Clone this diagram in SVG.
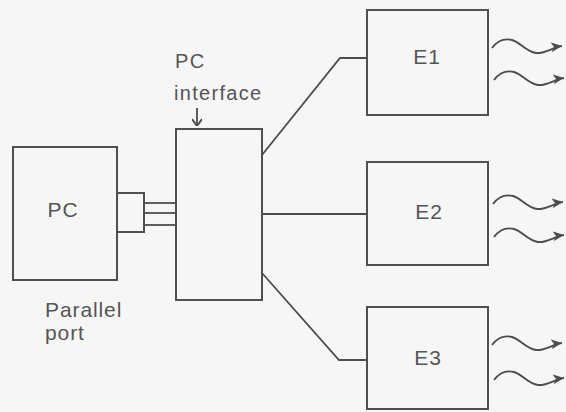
<svg xmlns="http://www.w3.org/2000/svg" width="566" height="412" viewBox="0 0 566 412">
  <style>
    .box { fill: none; stroke: #505050; stroke-width: 2; }
    .wire { fill: none; stroke: #4d4d4d; stroke-width: 1.8; }
    .wave { fill: none; stroke: #4d4d4d; stroke-width: 1.9; marker-end: url(#head); }
    .lbl { font-family: "Liberation Sans", Arial, sans-serif; fill: #555; }
    .big { font-size: 21px; letter-spacing: 1px; }
    .note { font-size: 20px; letter-spacing: 1.3px; }
  </style>
  <defs>
    <marker id="head" viewBox="-11 -5.5 11 11" refX="0" refY="0" markerWidth="11" markerHeight="11" markerUnits="userSpaceOnUse" orient="auto">
      <path d="M0,0 L-11,-5 L-8,0 L-11,5 Z" fill="#4d4d4d"/>
    </marker>
    <marker id="dhead" viewBox="-8 -5 8 10" refX="0" refY="0" markerWidth="8" markerHeight="10" markerUnits="userSpaceOnUse" orient="auto">
      <path d="M0,0 L-7,-5 M0,0 L-7,5" stroke="#4d4d4d" stroke-width="1.9" fill="none"/>
    </marker>
    <path id="w" class="wave" d="M0,0 C6,-8 12,-10 20,-8 C28,-6 34,4 44,5 C53,6 61,-1 70,-2"/>
  </defs>
  <rect width="566" height="412" fill="#f6f6f6"/>

  <g id="connectors">
    <polyline class="wire" points="262,155 340,58 367,58"/>
    <line class="wire" x1="262" y1="214" x2="367" y2="214"/>
    <polyline class="wire" points="262,273 339,360 367,360"/>
    <line class="wire" x1="144" y1="203" x2="176" y2="203"/>
    <line class="wire" x1="144" y1="213" x2="176" y2="213"/>
    <line class="wire" x1="144" y1="225" x2="176" y2="225"/>
    <line class="wire" x1="197" y1="108" x2="197" y2="126" marker-end="url(#dhead)"/>
    <use href="#w" x="492" y="48"/>
    <use href="#w" x="494" y="80"/>
    <use href="#w" x="493" y="204"/>
    <use href="#w" x="494" y="237"/>
    <use href="#w" x="492" y="345"/>
    <use href="#w" x="494" y="380"/>
  </g>

  <g id="pc">
    <rect class="box" x="13" y="147" width="104" height="133"/>
    <text class="lbl big" x="63" y="217" text-anchor="middle">PC</text>
  </g>

  <g id="parallel-port">
    <rect class="box" x="117" y="193" width="27" height="39"/>
    <text class="lbl big" x="45" y="317" style="letter-spacing:0.9px">Parallel</text>
    <text class="lbl big" x="45" y="340" style="letter-spacing:0.9px">port</text>
  </g>

  <g id="pc-interface">
    <rect class="box" x="176" y="129" width="86" height="171"/>
    <text class="lbl note" x="175" y="68">PC</text>
    <text class="lbl note" x="174" y="100">interface</text>
  </g>

  <g id="e1">
    <rect class="box" x="367" y="10" width="121" height="105"/>
    <text class="lbl big" x="427" y="64" text-anchor="middle">E1</text>
  </g>

  <g id="e2">
    <rect class="box" x="367" y="162" width="121" height="103"/>
    <text class="lbl big" x="429" y="219" text-anchor="middle">E2</text>
  </g>

  <g id="e3">
    <rect class="box" x="367" y="307" width="121" height="102"/>
    <text class="lbl big" x="428" y="365" text-anchor="middle">E3</text>
  </g>
</svg>
